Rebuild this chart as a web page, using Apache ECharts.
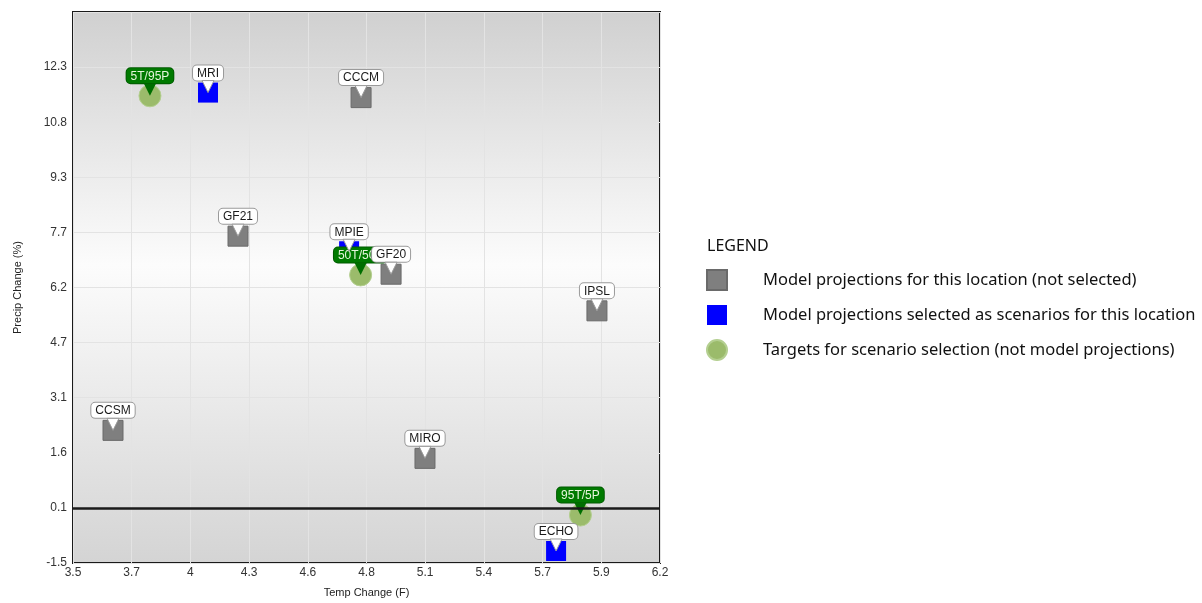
<!DOCTYPE html>
<html>
<head>
<meta charset="utf-8">
<script src="https://cdn.jsdelivr.net/npm/echarts@6/dist/echarts.min.js"></script>
<style>
html,body{margin:0;padding:0;background:#fff;}
#main{width:1202px;height:603px;}
</style>
</head>
<body>
<div id="main"></div>
<script>
// model projections (not selected)
var models = ['CCCM', 'GF21', 'GF20', 'IPSL', 'CCSM', 'MIRO'];
var modelTemp = [4.835, 4.269, 4.973, 5.92, 3.694, 5.129];
var modelPrecip = [11.43, 7.57, 6.51, 5.49, 2.16, 1.38];
// model projections selected as scenarios
var selected = ['MRI', 'MPIE', 'ECHO'];
var selTemp = [4.131, 4.78, 5.732];
var selPrecip = [11.57, 7.15, -1.2];
// targets for scenario selection
var targets = ['5T/95P', '50T/50P', '95T/5P'];
var tgtTemp = [3.864, 4.833, 5.844];
var tgtPrecip = [11.48, 6.49, -0.2];

var xLabels = ['3.5', '3.7', '4', '4.3', '4.6', '4.8', '5.1', '5.4', '5.7', '5.9', '6.2'];
var yLabels = ['-1.5', '0.1', '1.6', '3.1', '4.7', '6.2', '7.7', '9.3', '10.8', '12.3', ''];

var legendNames = [
  'Model projections for this location (not selected)',
  'Model projections selected as scenarios for this location',
  'Targets for scenario selection (not model projections)'
];

var xMin = 3.51, xStep = 0.27;
var yMin = -1.535, yStep = 1.535;

function pts(names, xs, ys) {
  var out = [];
  for (var i = 0; i < names.length; i++) out.push({name: names[i], value: [xs[i], ys[i]]});
  return out;
}

var boxLabel = {
  show: true,
  position: 'top',
  distance: 2,
  formatter: '{b}',
  fontFamily: 'Liberation Sans',
  fontSize: 12,
  color: '#1a1a1a',
  backgroundColor: '#fff',
  borderColor: '#9a9a9a',
  borderWidth: 1,
  borderRadius: 4,
  padding: [2, 4, 1, 4]
};

var myChart = echarts.init(document.getElementById('main'));
var option = {
  animation: false,
  title: {
    text: 'LEGEND',
    left: 702,
    top: 233,
    textStyle: {fontFamily: 'Noto Sans', fontSize: 16, fontWeight: 'normal', color: '#111'}
  },
  legend: {
    orient: 'vertical',
    left: 701,
    top: 264,
    itemWidth: 20,
    itemHeight: 20,
    itemGap: 14,
    selectedMode: false,
    textStyle: {fontFamily: 'Noto Sans', fontSize: 16.5, color: '#111', padding: [0, 0, 0, 31]},
    data: [
      {name: legendNames[0], icon: 'rect'},
      {name: legendNames[1], icon: 'rect'},
      {name: legendNames[2], icon: 'circle'}
    ]
  },
  grid: {
    left: 73, top: 12, width: 587, height: 553,
    show: true,
    borderColor: '#1a1a1a',
    borderWidth: 2,
    backgroundColor: new echarts.graphic.LinearGradient(0, 0, 0, 1, [
      {offset: 0, color: '#d0d0d0'},
      {offset: 0.46, color: '#fcfcfc'},
      {offset: 1, color: '#d4d4d4'}
    ])
  },
  xAxis: {
    type: 'value',
    min: xMin, max: xMin + 10 * xStep, interval: xStep,
    name: 'Temp Change (F)',
    nameLocation: 'middle',
    nameGap: 24,
    nameTextStyle: {fontFamily: 'Liberation Sans', fontSize: 11, color: '#222'},
    axisLine: {show: false},
    axisTick: {show: false},
    axisLabel: {
      margin: 4, fontFamily: 'Liberation Sans', fontSize: 12, color: '#333',
      formatter: function (v) { return xLabels[Math.round((v - xMin) / xStep)] || ''; }
    },
    splitLine: {lineStyle: {color: '#e3e3e3'}}
  },
  yAxis: {
    type: 'value',
    min: yMin, max: yMin + 10 * yStep, interval: yStep,
    name: 'Precip Change (%)',
    nameLocation: 'middle',
    nameGap: 50,
    nameTextStyle: {fontFamily: 'Liberation Sans', fontSize: 11, color: '#222'},
    axisLine: {show: false},
    axisTick: {show: false},
    axisLabel: {
      margin: 6, fontFamily: 'Liberation Sans', fontSize: 12, color: '#333',
      formatter: function (v) { return yLabels[Math.round((v - yMin) / yStep)] || ''; }
    },
    splitLine: {lineStyle: {color: '#e3e3e3'}}
  },
  series: [
    {
      name: legendNames[1],
      type: 'scatter',
      z: 2,
      symbol: 'rect',
      symbolSize: 20,
      itemStyle: {color: '#0000ff', opacity: 1},
      label: boxLabel,
      data: pts(selected, selTemp, selPrecip),
      markLine: {
        silent: true,
        symbol: 'none',
        label: {show: false},
        lineStyle: {color: '#1a1a1a', width: 2.5, type: 'solid'},
        data: [{yAxis: 0}]
      }
    },
    {
      name: legendNames[2],
      type: 'scatter',
      z: 2,
      symbol: 'circle',
      symbolSize: 22,
      itemStyle: {color: '#9bbb6b', borderColor: '#b4cf90', borderWidth: 1, opacity: 1},
      label: {
        show: true,
        position: 'top',
        distance: 1,
        formatter: '{b}',
        fontFamily: 'Liberation Sans',
        fontSize: 12,
        color: '#e6f5dc',
        backgroundColor: '#007a00',
        borderColor: '#005a00',
        borderWidth: 1,
        borderRadius: 4,
        padding: [2, 4, 1, 4]
      },
      data: pts(targets, tgtTemp, tgtPrecip)
    },
    {
      name: legendNames[0],
      type: 'scatter',
      z: 2,
      symbol: 'rect',
      symbolSize: 20,
      itemStyle: {color: '#7f7f7f', borderColor: '#6a6a6a', borderWidth: 1, opacity: 1},
      label: boxLabel,
      data: pts(models, modelTemp, modelPrecip)
    },
    {
      name: 'pointer',
      type: 'scatter',
      z: 3,
      silent: true,
      symbol: 'triangle',
      symbolRotate: 180,
      symbolSize: [12, 12],
      symbolOffset: [0, -6],
      itemStyle: {color: '#fff', borderColor: '#9a9a9a', borderWidth: 1, opacity: 1},
      data: pts(selected, selTemp, selPrecip).concat(pts(models, modelTemp, modelPrecip))
    },
    {
      name: 'pointerTarget',
      type: 'scatter',
      z: 3,
      silent: true,
      symbol: 'triangle',
      symbolRotate: 180,
      symbolSize: [12, 12],
      symbolOffset: [0, -6],
      itemStyle: {color: '#006e00', opacity: 1},
      data: pts(targets, tgtTemp, tgtPrecip)
    }
  ]
};
myChart.setOption(option);
</script>
</body>
</html>
